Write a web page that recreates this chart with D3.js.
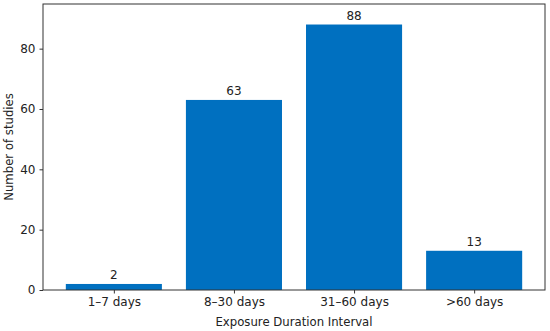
<!DOCTYPE html>
<html>
<head>
<meta charset="utf-8">
<script src="https://cdn.jsdelivr.net/npm/d3@7"></script>
<style>
  body { margin: 0; background: #fff; }
  svg { display: block; font-family: "DejaVu Sans", sans-serif; }
  .axis text { font-size: 12px; fill: #222; font-family: "DejaVu Sans", sans-serif; }
  .axis path, .axis line { stroke: #333; }
</style>
</head>
<body>
<div id="chart"></div>
<script>
// data
const categories = ["1\u20137 days", "8\u201330 days", "31\u201360 days", ">60 days"];
const studies = [2, 63, 88, 13];
const yTicks = [0, 20, 40, 60, 80];

const width = 550, height = 331;
const margin = { top: 4, right: 5, bottom: 41, left: 43 };

const svg = d3.select("#chart").append("svg")
  .attr("width", width).attr("height", height);

// bar positions as in matplotlib: centres 0..n-1, width 0.8, 5% margins
const x = d3.scaleLinear()
  .domain([-0.59, categories.length - 1 + 0.59])
  .range([margin.left, width - margin.right]);
const y = d3.scaleLinear()
  .domain([0, 94.8])
  .range([height - margin.bottom, margin.top]);

const barW = 0.8;

svg.append("g").selectAll("rect")
  .data(studies).join("rect")
    .attr("x", (d, i) => x(i - barW / 2))
    .attr("y", d => y(d))
    .attr("width", x(barW) - x(0))
    .attr("height", d => y(0) - y(d))
    .attr("fill", "#0070c0");

// value labels
svg.append("g").selectAll("text")
  .data(studies).join("text")
    .attr("x", (d, i) => x(i))
    .attr("y", d => y(d) - 5)
    .attr("text-anchor", "middle")
    .style("font-size", "12px")
    .style("fill", "#222")
    .text(d => d);

// axes
svg.append("g")
  .attr("class", "axis")
  .attr("transform", `translate(0,${height - margin.bottom})`)
  .call(d3.axisBottom(x).tickValues(d3.range(categories.length))
    .tickFormat(i => categories[i]).tickSize(3.5).tickPadding(4))
  .call(g => g.select(".domain").remove());

svg.append("g")
  .attr("class", "axis")
  .attr("transform", `translate(${margin.left},0)`)
  .call(d3.axisLeft(y).tickValues(yTicks).tickSize(3.5).tickPadding(4))
  .call(g => g.select(".domain").remove());

// frame
svg.append("rect")
  .attr("x", margin.left).attr("y", margin.top)
  .attr("width", width - margin.left - margin.right)
  .attr("height", height - margin.top - margin.bottom)
  .attr("fill", "none").attr("stroke", "#333").attr("stroke-width", 1);

// axis titles
svg.append("text")
  .attr("x", (margin.left + width - margin.right) / 2)
  .attr("y", height - 5)
  .attr("text-anchor", "middle")
  .style("font-size", "11.7px").style("fill", "#222")
  .text("Exposure Duration Interval");

svg.append("text")
  .attr("transform", `translate(13,${(margin.top + height - margin.bottom) / 2}) rotate(-90)`)
  .attr("text-anchor", "middle")
  .style("font-size", "11.7px").style("fill", "#222")
  .text("Number of studies");
</script>
</body>
</html>
